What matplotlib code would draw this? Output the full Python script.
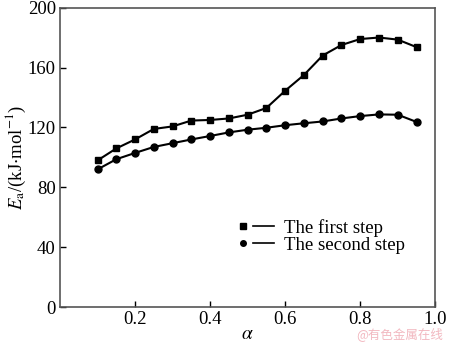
import matplotlib
matplotlib.use("Agg")
import matplotlib.pyplot as plt
from matplotlib.legend_handler import HandlerTuple
from matplotlib.lines import Line2D

alpha = [0.10, 0.15, 0.20, 0.25, 0.30, 0.35, 0.40, 0.45, 0.50, 0.55,
         0.60, 0.65, 0.70, 0.75, 0.80, 0.85, 0.90, 0.95]
first_step = [98, 106, 112, 119, 120.7, 124.6, 125, 126, 128.5, 133,
              144.5, 155, 168, 175, 179, 180, 178.6, 173.6]
second_step = [92, 98.8, 103, 107, 109.5, 112, 114.3, 116.7, 118.5, 119.8,
               121.5, 122.8, 124, 126, 127.6, 128.7, 128.5, 123.7]
xticks = [0.2, 0.4, 0.6, 0.8, 1.0]
yticks = [0, 40, 80, 120, 160, 200]
labels = ["The first step", "The second step"]

plt.rcParams['font.family'] = ['Liberation Serif', 'DejaVu Serif']
plt.rcParams['mathtext.fontset'] = 'stix'

fig = plt.figure(figsize=(4.5, 3.43), dpi=100)
ax = fig.add_axes([0.1333, 0.104, 0.834, 0.874])

ax.plot(alpha, first_step, color='black', lw=1.5, marker='s', ms=5)
ax.plot(alpha, second_step, color='black', lw=1.5, marker='o', ms=5)

ax.set_xlim(0, 1.0)
ax.set_ylim(0, 200)
ax.set_xticks(xticks)
ax.set_xticklabels([f"{t:.1f}" for t in xticks])
ax.set_yticks(yticks)
ax.tick_params(direction='in', length=4, width=1, labelsize=13.5, colors='black', pad=3)
for s in ax.spines.values():
    s.set_color('#555555')
    s.set_linewidth(1.2)

ax.set_xlabel(r'$\alpha$', fontsize=14, labelpad=-2)
ax.set_ylabel(r'$E_\mathrm{a}$/(kJ$\cdot$mol$^{-1}$)', fontsize=13.5, labelpad=0)

h1 = (Line2D([], [], ls='none', marker='s', color='black', ms=4),
      Line2D([], [], color='black', lw=1.2))
h2 = (Line2D([], [], ls='none', marker='o', color='black', ms=4),
      Line2D([], [], color='black', lw=1.2))
ax.legend([h1, h2], labels, handler_map={tuple: HandlerTuple(ndivide=2, pad=0)},
          loc='upper left', bbox_to_anchor=(0.44, 0.32), frameon=False,
          fontsize=13.5, handlelength=2.2, handletextpad=0.55, labelspacing=0.0,
          borderaxespad=0)

fig.text(0.985, 0.005, '@有色金属在线', color='#f2b8c0', fontsize=9,
         ha='right', va='bottom', family=['Noto Sans CJK SC', 'DejaVu Sans'])

fig.savefig('out.png', dpi=100)
